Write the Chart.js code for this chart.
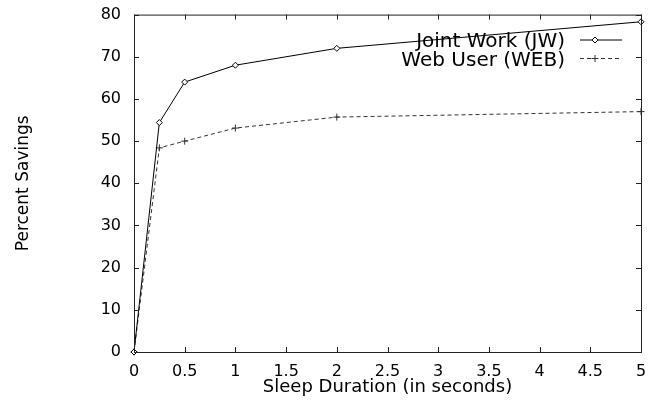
<!DOCTYPE html>
<html>
<head>
<meta charset="utf-8">
<script src="https://cdn.jsdelivr.net/npm/chart.js@4.4.1/dist/chart.umd.min.js"></script>
<style>
  html, body { margin: 0; padding: 0; background: #fff; }
  #wrap { width: 658px; height: 402px; }
</style>
</head>
<body>
<div id="wrap"><canvas id="savingsChart"></canvas></div>
<script>
// sleep durations (seconds) and percent savings
const sleepDurations = [0, 0.25, 0.5, 1, 2, 5];
const jointWork = [0, 54.4, 64, 68, 72, 78.3];
const webUser = [0, 48.4, 50, 53.1, 55.7, 57];
const xTicks = [0, 0.5, 1, 1.5, 2, 2.5, 3, 3.5, 4, 4.5, 5];
const yTicks = [0, 10, 20, 30, 40, 50, 60, 70, 80];
const seriesLabels = ["Joint Work (JW)", "Web User (WEB)"];

const FONT = "'DejaVu Sans', sans-serif";

function toPoints(values) {
    return sleepDurations.map((x, i) => ({ x: x, y: values[i] }));
}

// frame with inward ticks on all four sides, plus the legend on the right
const framePlugin = {
    id: "frame",
    afterDraw(chart) {
        const ctx = chart.ctx;
        const a = chart.chartArea;
        const xs = chart.scales.x;
        const ys = chart.scales.y;
        ctx.save();
        ctx.strokeStyle = "#222";
        ctx.lineWidth = 1;
        ctx.strokeRect(a.left + 0.5, a.top + 0.5, a.right - a.left, a.bottom - a.top);
        ctx.beginPath();
        xTicks.forEach((t) => {
            const px = Math.round(xs.getPixelForValue(t)) + 0.5;
            ctx.moveTo(px, a.bottom);
            ctx.lineTo(px, a.bottom - 5);
            ctx.moveTo(px, a.top);
            ctx.lineTo(px, a.top + 5);
        });
        yTicks.forEach((t) => {
            const py = Math.round(ys.getPixelForValue(t)) + 0.5;
            ctx.moveTo(a.left, py);
            ctx.lineTo(a.left + 5, py);
            ctx.moveTo(a.right, py);
            ctx.lineTo(a.right - 5, py);
        });
        ctx.stroke();

        // legend: text right-aligned, line sample to its right
        ctx.font = "20px " + FONT;
        ctx.textAlign = "right";
        ctx.textBaseline = "middle";
        chart.data.datasets.forEach((ds, i) => {
            const y = 40 + i * 18.5;
            ctx.fillStyle = "#000";
            ctx.fillText(ds.label, 565, y + 2);
            ctx.strokeStyle = ds.borderColor;
            ctx.setLineDash(ds.borderDash || []);
            ctx.beginPath();
            ctx.moveTo(580, y);
            ctx.lineTo(622, y);
            ctx.stroke();
            ctx.setLineDash([]);
            ctx.fillStyle = "#fff";
            Chart.helpers.drawPoint(ctx, {
                pointStyle: ds.pointStyle,
                radius: ds.pointRadius,
                borderWidth: 1
            }, 595, y);
        });
        ctx.restore();
    }
};

new Chart(document.getElementById("savingsChart"), {
    type: "line",
    data: {
        datasets: [
            {
                label: seriesLabels[0],
                data: toPoints(jointWork),
                borderColor: "#000",
                backgroundColor: "#fff",
                borderWidth: 1,
                pointStyle: "rectRot",
                pointRadius: 3,
                pointBorderWidth: 1,
                clip: false
            },
            {
                label: seriesLabels[1],
                data: toPoints(webUser),
                borderColor: "#333",
                backgroundColor: "#fff",
                borderWidth: 1,
                borderDash: [4, 3],
                pointStyle: "cross",
                pointRadius: 3.5,
                pointBorderWidth: 1,
                clip: false
            }
        ]
    },
    options: {
        responsive: true,
        maintainAspectRatio: false,
        animation: false,
        layout: { padding: { left: 7, right: 17, top: 14, bottom: 0 } },
        plugins: {
            legend: { display: false },
            tooltip: { enabled: false }
        },
        scales: {
            x: {
                type: "linear",
                min: 0,
                max: 5,
                afterFit(scale) { scale.height = 50; },
                afterBuildTicks(scale) { scale.ticks = xTicks.map((v) => ({ value: v })); },
                grid: { display: false },
                border: { display: false },
                ticks: {
                    padding: 2,
                    color: "#000",
                    font: { family: FONT, size: 16 },
                    maxRotation: 0,
                    callback: (v) => String(v)
                },
                title: {
                    display: true,
                    text: "Sleep Duration (in seconds)",
                    color: "#000",
                    font: { family: FONT, size: 18 },
                    padding: { top: 0, bottom: 4 }
                }
            },
            y: {
                min: 0,
                max: 80,
                afterFit(scale) { scale.width = 127; },
                afterBuildTicks(scale) { scale.ticks = yTicks.map((v) => ({ value: v })); },
                grid: { display: false },
                border: { display: false },
                ticks: {
                    padding: 5,
                    color: "#000",
                    font: { family: FONT, size: 16 }
                },
                title: {
                    display: true,
                    text: "Percent Savings",
                    color: "#000",
                    font: { family: FONT, size: 17 },
                    padding: { top: 6, bottom: 0 }
                }
            }
        }
    },
    plugins: [framePlugin]
});
</script>
</body>
</html>
